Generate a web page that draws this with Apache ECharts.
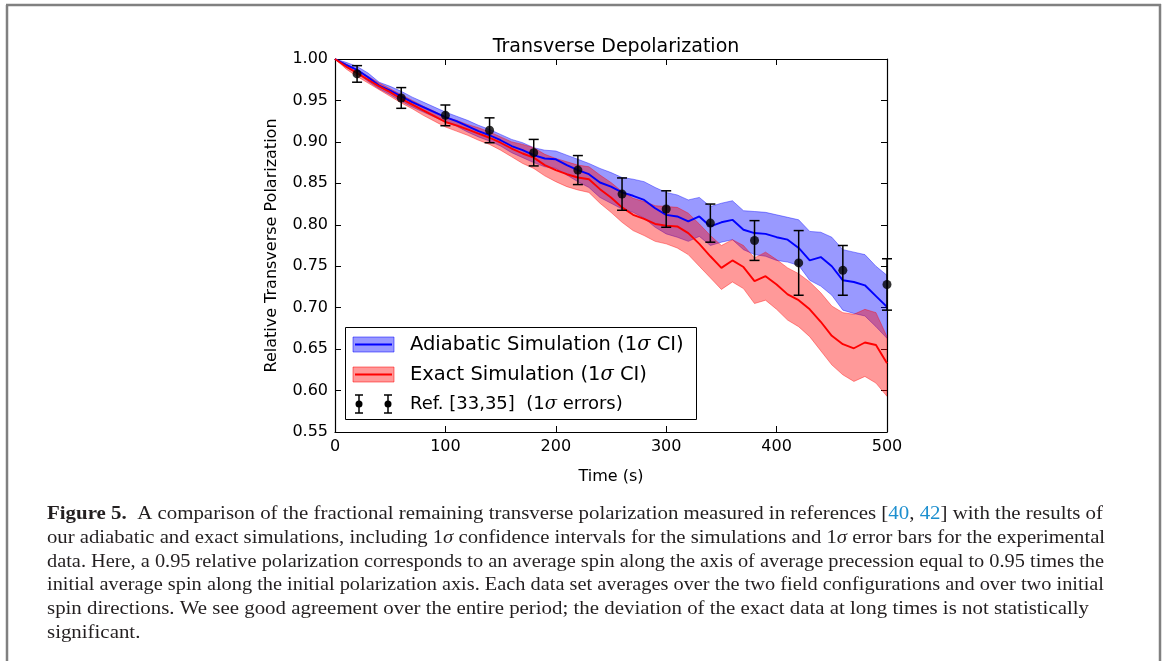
<!DOCTYPE html>
<html><head><meta charset="utf-8">
<script src="https://cdn.jsdelivr.net/npm/echarts@6/dist/echarts.min.js"></script>
<style>html,body{margin:0;padding:0;background:#fff}#c{width:1165px;height:661px}</style>
</head><body><div id="c"></div>
<script>
const times = [0,10,20,30,40,50,60,70,80,90,100,110,120,130,140,150,160,170,180,190,200,210,220,230,240,250,260,270,280,290,300,310,320,330,340,350,360,370,380,390,400,410,420,430,440,450,460,470,480,490,500];
const adiabaticMean = [1.000,0.993,0.987,0.978,0.968,0.962,0.955,0.948,0.942,0.936,0.930,0.925,0.919,0.913,0.908,0.902,0.895,0.890,0.884,0.880,0.879,0.872,0.866,0.861,0.851,0.846,0.839,0.835,0.830,0.820,0.812,0.810,0.804,0.810,0.798,0.803,0.806,0.794,0.790,0.789,0.785,0.782,0.772,0.757,0.761,0.750,0.733,0.731,0.727,0.714,0.701];
const adiabaticUpper = [1.000,0.996,0.991,0.983,0.972,0.967,0.961,0.954,0.948,0.942,0.936,0.931,0.926,0.920,0.915,0.909,0.903,0.899,0.893,0.890,0.889,0.884,0.879,0.874,0.868,0.863,0.857,0.855,0.852,0.845,0.839,0.836,0.830,0.833,0.822,0.826,0.829,0.817,0.816,0.815,0.812,0.809,0.806,0.792,0.791,0.785,0.770,0.767,0.764,0.750,0.739];
const adiabaticLower = [1.000,0.990,0.983,0.973,0.964,0.957,0.949,0.942,0.936,0.930,0.924,0.919,0.912,0.906,0.901,0.895,0.887,0.881,0.875,0.870,0.868,0.860,0.852,0.845,0.833,0.826,0.819,0.815,0.808,0.797,0.789,0.785,0.780,0.786,0.775,0.779,0.782,0.770,0.764,0.762,0.757,0.755,0.751,0.733,0.726,0.715,0.697,0.693,0.690,0.677,0.663];
const exactMean = [1.000,0.991,0.983,0.975,0.967,0.960,0.952,0.945,0.938,0.931,0.924,0.920,0.915,0.910,0.905,0.899,0.892,0.886,0.881,0.872,0.866,0.861,0.857,0.855,0.843,0.833,0.821,0.812,0.807,0.801,0.799,0.798,0.790,0.777,0.762,0.748,0.757,0.749,0.732,0.738,0.728,0.716,0.709,0.698,0.683,0.666,0.656,0.651,0.658,0.655,0.633];
const exactUpper = [1.000,0.994,0.987,0.979,0.971,0.964,0.957,0.950,0.943,0.937,0.930,0.926,0.921,0.917,0.912,0.906,0.900,0.897,0.893,0.885,0.880,0.876,0.872,0.870,0.860,0.851,0.840,0.832,0.828,0.823,0.822,0.821,0.814,0.801,0.787,0.775,0.782,0.775,0.760,0.767,0.758,0.748,0.741,0.731,0.718,0.702,0.694,0.692,0.698,0.694,0.665];
const exactLower = [1.000,0.988,0.979,0.971,0.963,0.955,0.947,0.940,0.932,0.925,0.918,0.913,0.908,0.902,0.897,0.890,0.882,0.874,0.868,0.859,0.852,0.846,0.842,0.839,0.826,0.815,0.803,0.793,0.787,0.780,0.777,0.772,0.764,0.750,0.736,0.722,0.731,0.723,0.705,0.709,0.698,0.685,0.677,0.665,0.648,0.631,0.619,0.611,0.617,0.609,0.593];
const refTimes = [20,60,100,140,180,220,260,300,340,380,420,460,500];
const refValue = [0.982,0.953,0.932,0.914,0.887,0.866,0.837,0.819,0.802,0.781,0.754,0.745,0.728];
const refError = [0.010,0.0125,0.0125,0.015,0.016,0.0175,0.0195,0.022,0.023,0.024,0.039,0.030,0.031];
const xTicks = [0,100,200,300,400,500];
const yTicks = [0.55,0.60,0.65,0.70,0.75,0.80,0.85,0.90,0.95,1.00];

const chartTitle = 'Transverse Depolarization';
const xName = 'Time (s)';
const yName = 'Relative Transverse Polarization';
const legendAdiabatic = 'Adiabatic Simulation (1{i|σ} CI)';
const legendExact = 'Exact Simulation (1{i|σ} CI)';
const legendRef = 'Ref. [33,35]  (1{i|σ} errors)';
const captionLines = [
  ['{b|Figure 5.}  A comparison of the fractional remaining transverse polarization measured in references [{c|40}, {c|42}] with the results of', 'Figure 5.  A comparison of the fractional remaining transverse polarization measured in references [40, 42] with the results of', 1103],
  ['our adiabatic and exact simulations, including 1{i|σ} confidence intervals for the simulations and 1{i|σ} error bars for the experimental', 'our adiabatic and exact simulations, including 1σ confidence intervals for the simulations and 1σ error bars for the experimental', 1107],
  ['data. Here, a 0.95 relative polarization corresponds to an average spin along the axis of average precession equal to 0.95 times the', 'data. Here, a 0.95 relative polarization corresponds to an average spin along the axis of average precession equal to 0.95 times the', 1104],
  ['initial average spin along the initial polarization axis. Each data set averages over the two field configurations and over two initial', 'initial average spin along the initial polarization axis. Each data set averages over the two field configurations and over two initial', 1104],
  ['spin directions. We see good agreement over the entire period; the deviation of the exact data at long times is not statistically', 'spin directions. We see good agreement over the entire period; the deviation of the exact data at long times is not statistically', 1089],
  ['significant.', 'significant.', null]
];

const SANS = '"DejaVu Sans", sans-serif';
const SERIF = '"Liberation Serif", "DejaVu Serif", serif';
const BLUE_FILL = 'rgba(0,0,255,0.4)';
const RED_FILL = 'rgba(255,0,0,0.4)';

function toPairs(xs, ys) { return xs.map((x, i) => [x, ys[i]]); }

function bandSeries(upper, lower, color, z) {
  return {
    type: 'custom', coordinateSystem: 'cartesian2d', silent: true, z: z, clip: true,
    data: [[times[0], upper[0]]],
    renderItem: function (params, api) {
      const pts = [];
      for (let i = 0; i < times.length; i++) pts.push(api.coord([times[i], upper[i]]));
      for (let i = times.length - 1; i >= 0; i--) pts.push(api.coord([times[i], lower[i]]));
      return { type: 'polygon', shape: { points: pts }, style: { fill: color, stroke: color, lineWidth: 1 } };
    }
  };
}

// caption layout
const capFontSize = 19;
const ctx = document.createElement('canvas').getContext('2d');
function measure(txt, bold) {
  ctx.font = (bold ? 'bold ' : '') + capFontSize + 'px "Liberation Serif"';
  return ctx.measureText(txt).width;
}
const capLeft = 47;
const capY0 = 514, capDy = 23.8;
let lastScale = 1;
const captionGraphics = captionLines.map((ln, k) => {
  let s;
  if (ln[2] == null) s = lastScale;
  else {
    let w;
    if (k === 0) { w = measure('Figure 5.', true) + measure(ln[1].slice(9), false); }
    else w = measure(ln[1], false);
    s = (ln[2] - capLeft) / w;
    lastScale = s;
  }
  return {
    type: 'text', x: capLeft, y: capY0 + k * capDy, scaleX: s, originX: 0, z: 100,
    style: {
      text: ln[0], font: capFontSize + 'px ' + SERIF, fill: '#231f20', verticalAlign: 'middle', align: 'left',
      rich: {
        b: { fontWeight: 'bold', fontSize: capFontSize, fontFamily: SERIF, fill: '#231f20' },
        c: { fontSize: capFontSize, fontFamily: SERIF, fill: '#1d8fcf' },
        i: { fontStyle: 'italic', fontSize: capFontSize, fontFamily: SERIF, fill: '#231f20' }
      }
    }
  };
});

function legendText(txt, y, fs) {
  return { type: 'text', x: 410, y: y, z: 100, style: { text: txt, font: fs + 'px ' + SANS, fill: '#000', verticalAlign: 'middle', align: 'left',
    rich: { i: { fontStyle: 'italic', fontSize: fs, fontFamily: '"DejaVu Serif", serif', fill: '#000' } } } };
}
function errIcon(x, yc) {
  return [
    { type: 'line', z: 100, shape: { x1: x, y1: yc - 9, x2: x, y2: yc + 9 }, style: { stroke: '#000', lineWidth: 1.5 } },
    { type: 'line', z: 100, shape: { x1: x - 4, y1: yc - 9, x2: x + 4, y2: yc - 9 }, style: { stroke: '#000', lineWidth: 1.5 } },
    { type: 'line', z: 100, shape: { x1: x - 4, y1: yc + 9, x2: x + 4, y2: yc + 9 }, style: { stroke: '#000', lineWidth: 1.5 } },
    { type: 'circle', z: 100, shape: { cx: x, cy: yc, r: 3.5 }, style: { fill: '#000' } }
  ];
}

const legendGraphics = [
  { type: 'rect', z: 99, shape: { x: 345.5, y: 327.5, width: 351, height: 92 }, style: { fill: '#fff', stroke: '#000', lineWidth: 1 } },
  { type: 'rect', z: 100, shape: { x: 353, y: 337, width: 41, height: 15 }, style: { fill: BLUE_FILL, stroke: 'rgba(0,0,255,0.5)', lineWidth: 1 } },
  { type: 'line', z: 100, shape: { x1: 355, y1: 344.5, x2: 392, y2: 344.5 }, style: { stroke: '#0000ff', lineWidth: 1.8 } },
  { type: 'rect', z: 100, shape: { x: 353, y: 367, width: 41, height: 15 }, style: { fill: RED_FILL, stroke: 'rgba(255,0,0,0.5)', lineWidth: 1 } },
  { type: 'line', z: 100, shape: { x1: 355, y1: 374.5, x2: 392, y2: 374.5 }, style: { stroke: '#ff0000', lineWidth: 1.8 } },
  legendText(legendAdiabatic, 345, 19.5),
  legendText(legendExact, 375, 19.5),
  legendText(legendRef, 404, 18)
].concat(errIcon(359, 404), errIcon(388, 404));

const frameGraphics = [
  { type: 'line', z: 100, shape: { x1: 7, y1: 5, x2: 7, y2: 661 }, style: { stroke: '#808080', lineWidth: 2.5 } },
  { type: 'line', z: 100, shape: { x1: 6, y1: 5, x2: 1161, y2: 5 }, style: { stroke: '#808080', lineWidth: 2.5 } },
  { type: 'line', z: 100, shape: { x1: 1160, y1: 4, x2: 1160, y2: 661 }, style: { stroke: '#808080', lineWidth: 2.5 } }
];

const axisCommon = {
  axisLine: { show: true, onZero: false, lineStyle: { color: '#000', width: 1.2 } },
  axisTick: { show: true, inside: true, length: 6, lineStyle: { color: '#000', width: 1 } },
  splitLine: { show: false }
};

const chart = echarts.init(document.getElementById('c'), null, { renderer: 'canvas' });
chart.setOption({
  animation: false,
  backgroundColor: '#fff',
  title: { text: chartTitle, left: 611, top: 33, textAlign: 'center', textStyle: { fontFamily: SANS, fontSize: 19, fontWeight: 'normal', color: '#000' } },
  grid: { left: 335, right: 278, top: 59, bottom: 229 },
  xAxis: [
    Object.assign({ type: 'value', min: 0, max: 500, interval: 100, position: 'bottom',
      name: xName, nameLocation: 'middle', nameGap: 37, nameTextStyle: { fontFamily: SANS, fontSize: 16, color: '#000' },
      axisLabel: { fontFamily: SANS, fontSize: 16, color: '#000', margin: 7, showMinLabel: true, showMaxLabel: true } }, axisCommon),
    Object.assign({ type: 'value', min: 0, max: 500, interval: 100, position: 'top', axisLabel: { show: false } }, axisCommon)
  ],
  yAxis: [
    Object.assign({ type: 'value', min: 0.55, max: 1.0, interval: 0.05, position: 'left',
      name: yName, nameLocation: 'middle', nameGap: 55, nameTextStyle: { fontFamily: SANS, fontSize: 16, color: '#000' },
      axisLabel: { fontFamily: SANS, fontSize: 16, color: '#000', margin: 7, formatter: v => v.toFixed(2), showMinLabel: true, showMaxLabel: true } }, axisCommon),
    Object.assign({ type: 'value', min: 0.55, max: 1.0, interval: 0.05, position: 'right', axisLabel: { show: false } }, axisCommon)
  ],
  series: [
    bandSeries(adiabaticUpper, adiabaticLower, BLUE_FILL, 2),
    bandSeries(exactUpper, exactLower, RED_FILL, 3),
    { type: 'line', data: toPairs(times, adiabaticMean), showSymbol: false, z: 4, lineStyle: { color: '#0000ff', width: 1.9 }, silent: true },
    { type: 'line', data: toPairs(times, exactMean), showSymbol: false, z: 5, lineStyle: { color: '#ff0000', width: 1.9 }, silent: true },
    {
      type: 'custom', z: 6, silent: true,
      data: refTimes.map((t, i) => [t, refValue[i], refError[i]]),
      renderItem: function (params, api) {
        const x = api.value(0), y = api.value(1), e = api.value(2);
        const top = api.coord([x, y + e]), bot = api.coord([x, y - e]);
        const cap = 5;
        const st = { stroke: '#000', lineWidth: 1.5 };
        return { type: 'group', children: [
          { type: 'line', shape: { x1: top[0], y1: top[1], x2: bot[0], y2: bot[1] }, style: st },
          { type: 'line', shape: { x1: top[0] - cap, y1: top[1], x2: top[0] + cap, y2: top[1] }, style: st },
          { type: 'line', shape: { x1: bot[0] - cap, y1: bot[1], x2: bot[0] + cap, y2: bot[1] }, style: st }
        ] };
      }
    },
    { type: 'scatter', data: toPairs(refTimes, refValue), symbolSize: 9, z: 7, itemStyle: { color: '#000' }, silent: true }
  ],
  graphic: frameGraphics.concat(legendGraphics, captionGraphics)
});
</script>
</body></html>
